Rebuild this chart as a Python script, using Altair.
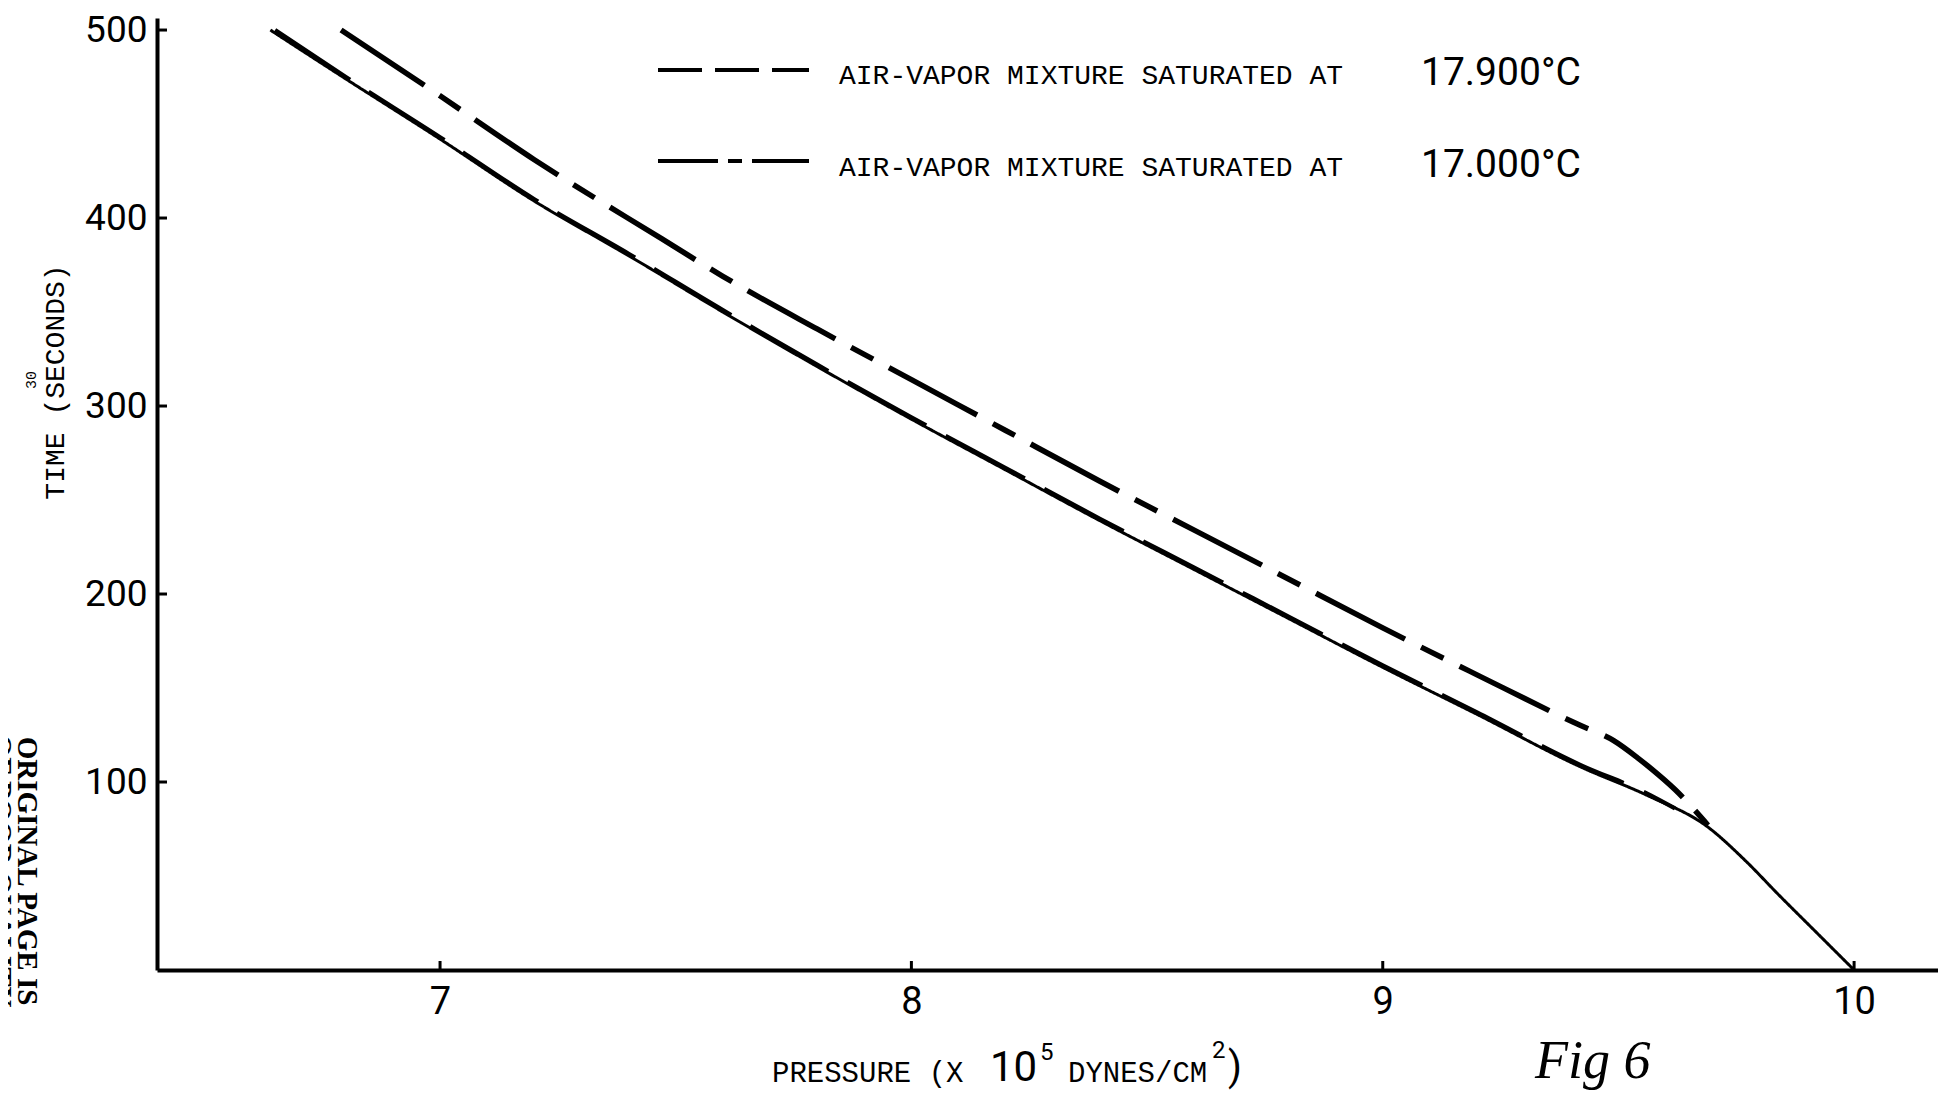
import altair as alt
import pandas as pd

# ---- data ----
solid_p = [6.64, 6.8, 7.0, 7.2, 7.4, 7.6, 7.8, 8.0, 8.2, 8.4, 8.6, 8.8, 9.0, 9.2, 9.42, 9.56, 9.69, 9.77, 9.84, 9.92, 10.0]
solid_t = [500, 474, 442, 409, 380, 350, 321, 293, 266, 239, 213, 187, 161, 136, 108, 93, 76, 58, 40, 20, 0]

sat179_p = [6.65, 6.8, 7.0, 7.2, 7.4, 7.6, 7.8, 8.0, 8.2, 8.4, 8.6, 8.8, 9.0, 9.2, 9.42, 9.56, 9.62]
sat179_t = [500, 475, 443, 410, 381, 351, 322, 294, 267, 240, 214, 188, 162, 137, 109, 94, 86]

sat170_p = [6.79, 7.0, 7.2, 7.47, 7.6, 7.8, 8.0, 8.2, 8.4, 8.6, 8.8, 9.0, 9.2, 9.42, 9.49, 9.54, 9.57, 9.62, 9.69]
sat170_t = [500, 465, 431, 389, 369, 341, 314, 287, 260, 234, 208, 182, 157, 130, 122, 113, 107, 96, 77]

series_names = ["solid", "17.900", "17.000"]
x_ticks = [7, 8, 9, 10]
y_ticks = [100, 200, 300, 400, 500]

legend_179 = "AIR-VAPOR MIXTURE SATURATED AT"
legend_179_num = "17.900°C"
legend_170 = "AIR-VAPOR MIXTURE SATURATED AT"
legend_170_num = "17.000°C"

# ---- build table ----
rows = []
for name, ps, ts in [("solid", solid_p, solid_t), ("17.900", sat179_p, sat179_t), ("17.000", sat170_p, sat170_t)]:
    for i, (p, t) in enumerate(zip(ps, ts)):
        rows.append({"series": name, "pressure": p, "time": t, "idx": i})
df = pd.DataFrame(rows)

TOP = 10
W, H = 1781, 952
xscale = alt.Scale(domain=[6.3995, 10.178], nice=False, zero=False)
yscale = alt.Scale(domain=[0, 506.4], nice=False, zero=False)

NARROW = "Liberation Sans Narrow, Roboto, sans-serif"
MONO = "Liberation Mono, DejaVu Sans Mono, monospace"
SERIF = "Liberation Serif, DejaVu Serif, serif"

x_axis = alt.Axis(values=x_ticks, title=None, grid=False, ticks=False,
                  domainColor="black", domainWidth=4,
                  labelFont=NARROW, labelFontSize=38, labelColor="black",
                  labelPadding=13, labelFlush=False)
y_axis = alt.Axis(values=y_ticks, title=None, grid=False, ticks=False,
                  domainColor="black", domainWidth=4,
                  labelFont=NARROW, labelFontSize=37, labelColor="black",
                  labelPadding=10, labelFlush=False)

lines = alt.Chart(df).mark_line(color="black", strokeCap="butt", interpolate="monotone").encode(
    x=alt.X("pressure:Q", scale=xscale, axis=x_axis),
    y=alt.Y("time:Q", scale=yscale, axis=y_axis),
    detail="series:N",
    order="idx:Q",
    strokeDash=alt.StrokeDash("series:N", legend=None,
                              scale=alt.Scale(domain=series_names,
                                              range=[[1, 0], [90, 22], [100, 18, 25, 18]])),
    strokeWidth=alt.StrokeWidth("series:N", legend=None,
                                scale=alt.Scale(domain=series_names, range=[3, 5.5, 3.5])),
)

ytick_df = pd.DataFrame({"time": y_ticks})
yticks = alt.Chart(ytick_df).mark_rule(color="black", strokeWidth=3).encode(
    y=alt.Y("time:Q", scale=yscale, axis=y_axis),
    x=alt.value(0), x2=alt.value(10),
)
xtick_df = pd.DataFrame({"pressure": x_ticks})
xticks = alt.Chart(xtick_df).mark_rule(color="black", strokeWidth=3).encode(
    x=alt.X("pressure:Q", scale=xscale, axis=x_axis),
    y=alt.value(H), y2=alt.value(H - 9),
)


def label(txt, x, y, size, font, angle=0, align="left", baseline="alphabetic",
          weight="normal", style="normal"):
    # y is measured from the svg top; shift into plot-group coordinates
    return alt.Chart(pd.DataFrame({"t": [txt]})).mark_text(
        align=align, baseline=baseline, font=font, fontSize=size, angle=angle,
        fontWeight=weight, fontStyle=style, color="black"
    ).encode(text="t:N", x=alt.value(x), y=alt.value(y - TOP))


def sample(y, dash):
    return alt.Chart(pd.DataFrame({"t": [0]})).mark_rule(
        color="black", strokeWidth=4, strokeDash=dash, strokeCap="butt"
    ).encode(x=alt.value(501), x2=alt.value(652), y=alt.value(y - TOP))


annotations = [
    # legend
    sample(62, [44, 13]),
    label(legend_179, 682, 76, 28, MONO),
    label(legend_179_num, 1264, 77, 39, NARROW),
    sample(153, [60, 10, 14, 10]),
    label(legend_170, 682, 168, 28, MONO),
    label(legend_170_num, 1264, 169, 39, NARROW),
    # y title and margin notes
    label("TIME (SECONDS)", -101, 374, 28, MONO, angle=270, align="center", baseline="middle"),
    label("30", -126, 372, 15, MONO, angle=270, align="center", baseline="middle"),
    label("ORIGINAL PAGE IS", -130, 863, 29, SERIF, angle=90, align="center", baseline="middle", weight="bold"),
    label("OF POOR QUALITY", -156, 863, 29, SERIF, angle=90, align="center", baseline="middle", weight="bold"),
    # x title
    label("PRESSURE (X", 615, 1074, 29, MONO),
    label("10", 833, 1073, 42, NARROW),
    label("5", 883, 1052, 24, NARROW),
    label("DYNES/CM", 911, 1074, 29, MONO),
    label("2", 1055, 1050, 24, NARROW),
    label(")", 1071, 1072, 40, NARROW),
    label("Fig 6", 1378, 1070, 54, SERIF, style="italic"),
]

chart = alt.layer(lines, yticks, xticks, *annotations).properties(
    width=W, height=H,
    autosize=alt.AutoSizeParams(type="none"),
    padding={"left": 149, "top": TOP, "right": 0, "bottom": 122},
    background="white",
).configure_view(stroke=None)

chart.save("out.html", embed_options={"renderer": "svg", "actions": False})
